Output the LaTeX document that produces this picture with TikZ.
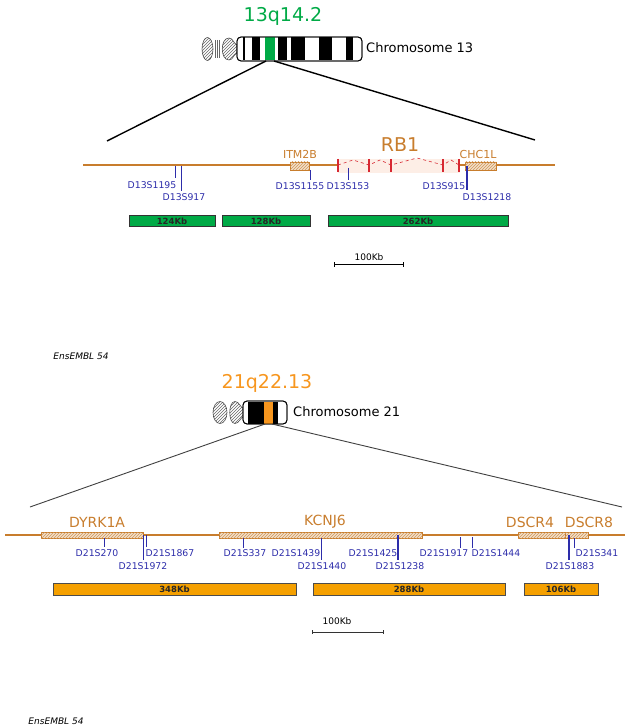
\documentclass[tikz,border=0pt]{standalone}
\usepackage{fontspec}
\setmainfont{DejaVu Sans}
\usetikzlibrary{patterns}
\definecolor{bandgreen}{RGB}{0,170,70}
\definecolor{bandorange}{RGB}{247,150,30}
\definecolor{geneorange}{RGB}{200,125,45}
\definecolor{markerblue}{RGB}{45,45,170}
\definecolor{barorange}{RGB}{245,160,0}
\definecolor{rbfill}{RGB}{253,238,230}
\definecolor{exonred}{RGB}{215,40,50}
\begin{document}
\begin{tikzpicture}[x=1pt,y=-1pt,
  mlabel/.style={font=\fontsize{9.3}{10}\selectfont, text=markerblue, inner sep=0pt},
  mtick/.style={draw=markerblue, line width=0.9pt},
  mthick/.style={draw=markerblue, line width=2pt},
  genelabel/.style={font=\fontsize{11}{12}\selectfont, text=geneorange, inner sep=0pt},
  bigglabel/.style={font=\fontsize{14}{15}\selectfont, text=geneorange, inner sep=0pt},
  genebox/.style={draw=geneorange, line width=0.8pt, fill=geneorange!25,
    postaction={pattern=north east lines, pattern color=geneorange!80}},
  track/.style={draw=geneorange, line width=1.1pt},
  kbtext/.style={font=\bfseries\fontsize{8.5}{9}\selectfont, text=black!85, inner sep=0pt},
  greenbar/.style={draw=black!80, line width=1pt, fill=bandgreen},
  orangebar/.style={draw=black!70, line width=0.8pt, fill=barorange},
  chromtext/.style={font=\fontsize{13}{14}\selectfont, anchor=west, inner sep=0pt},
  hatchoval/.style={draw=black!70, line width=0.6pt, pattern=north east lines, pattern color=black!60},
  zoomline/.style={draw=black, line width=1.4pt},
  zoomthin/.style={draw=black!75, line width=0.9pt},
  scaletext/.style={font=\fontsize{9}{10}\selectfont, inner sep=0pt},
  srctext/.style={font=\itshape\fontsize{9}{10}\selectfont, inner sep=0pt}
]
\useasboundingbox (0,0) rectangle (625,727);

% ---------------- Chromosome 13 ----------------
\node[text=bandgreen, font=\fontsize{19}{20}\selectfont, inner sep=0pt] (band13) at (283,16) {13q14.2};
\draw[hatchoval] (207.5,49) ellipse [x radius=5.5, y radius=11.5];
\foreach \xx in {215,217,219} \draw[black!60, line width=0.5pt] (\xx,40) -- (\xx,58);
\draw[hatchoval] (229,38) .. controls (220,38) and (220,60) .. (229,60)
  .. controls (233,60) and (233,55) .. (237,53) -- (237,45)
  .. controls (233,43) and (233,38) .. (229,38) -- cycle;
\draw[black, line width=0.8pt, fill=white, rounded corners=4pt] (237,37) rectangle (362,61);
\foreach \a/\b in {243/245,252/260,278/287,291/305,319/332,346/353}
  \fill[black] (\a,37.5) rectangle (\b,60.5);
\fill[bandgreen] (265,37.5) rectangle (275,60.5);
\draw[black, line width=0.8pt, rounded corners=4pt] (237,37) rectangle (362,61);
\node[chromtext] (chr13) at (366,48) {Chromosome 13};
\coordinate (b13l) at (266,61);
\coordinate (b13r) at (274,61);
\coordinate (t13l) at (107,141);
\coordinate (t13r) at (535,140);
\draw[zoomline] (b13l) -- (t13l);
\draw[zoomline] (b13r) -- (t13r);

% ---------------- 13q14.2 gene track ----------------
\draw[track] (83,165) -- (555,165);
% RB1 with exons and introns
\fill[rbfill] (338,159) rectangle (460,173);
\draw[exonred, dashed, line width=0.6pt] (338,165) -- (353,160) -- (369,165) -- (380,160) -- (391,165)
  -- (417,158) -- (443,165) -- (451,160) -- (459,165);
\foreach \xx in {338,369,391,443,459} \draw[draw=exonred, line width=1.1pt] (\xx,159) -- (\xx,172);
\node[bigglabel, font=\fontsize{19}{20}\selectfont] (rb1) at (400,145) {RB1};
\node[genebox, minimum width=19pt, minimum height=8pt, inner sep=0pt] (itm2b) at (299.5,166) {};
\node[genelabel] (itm2bl) at (300,154) {ITM2B};
\node[genebox, minimum width=31pt, minimum height=8pt, inner sep=0pt] (chc1l) at (480.5,166) {};
\node[genelabel] (chc1ll) at (478,154) {CHC1L};

% markers
\coordinate (m1a) at (175,166); \coordinate (m1b) at (175,178);
\draw[mtick] (m1a) -- (m1b);
\node[mlabel] (d13s1195) at (152,185) {D13S1195};
\coordinate (m2a) at (181,166); \coordinate (m2b) at (181,191);
\draw[mtick] (m2a) -- (m2b);
\node[mlabel] (d13s917) at (184,197) {D13S917};
\coordinate (m3a) at (310,170); \coordinate (m3b) at (310,180);
\draw[mtick] (m3a) -- (m3b);
\node[mlabel] (d13s1155) at (300,186) {D13S1155};
\coordinate (m4a) at (348,168); \coordinate (m4b) at (348,180);
\draw[mtick] (m4a) -- (m4b);
\node[mlabel] (d13s153) at (348,186) {D13S153};
\node[mlabel] (d13s915) at (444,186) {D13S915};
\coordinate (m5a) at (467,166); \coordinate (m5b) at (467,190);
\draw[mthick] (m5a) -- (m5b);
\node[mlabel] (d13s1218) at (487,197) {D13S1218};

% size bars
\draw[greenbar] (129,216) rectangle (215,226);
\node[kbtext] (kb124) at (172,221) {124Kb};
\draw[greenbar] (222,216) rectangle (310,226);
\node[kbtext] (kb128) at (266,221) {128Kb};
\draw[greenbar] (328,216) rectangle (508,226);
\node[kbtext] (kb262) at (418,221) {262Kb};

% scale
\node[scaletext] (sc13) at (369,257) {100Kb};
\coordinate (s13a) at (334,264); \coordinate (s13b) at (403,264);
\draw[black, line width=1pt] (s13a) -- (s13b);
\draw[black, line width=0.8pt] ([yshift=-2.5pt]s13a) -- ([yshift=2.5pt]s13a);
\draw[black, line width=0.8pt] ([yshift=-2.5pt]s13b) -- ([yshift=2.5pt]s13b);

\node[srctext] (src1) at (81,356) {EnsEMBL 54};

% ---------------- Chromosome 21 ----------------
\node[text=bandorange, font=\fontsize{19}{20}\selectfont, inner sep=0pt] (band21) at (267,383) {21q22.13};
\draw[hatchoval] (220,412.5) ellipse [x radius=7, y radius=11];
\draw[hatchoval] (235,401.5) .. controls (228,401.5) and (228,423.5) .. (235,423.5)
  .. controls (239,423.5) and (240,418) .. (244,416) -- (244,409)
  .. controls (240,407) and (239,401.5) .. (235,401.5) -- cycle;
\draw[black, line width=0.8pt, fill=white, rounded corners=4pt] (243,401) rectangle (287,424);
\fill[black] (248,401.5) rectangle (264,423.5);
\fill[bandorange] (264,401.5) rectangle (273,423.5);
\fill[black] (273,401.5) rectangle (278,423.5);
\draw[black, line width=0.8pt, rounded corners=4pt] (243,401) rectangle (287,424);
\node[chromtext] (chr21) at (293,412) {Chromosome 21};
\coordinate (b21l) at (265,424);
\coordinate (b21r) at (272,424);
\coordinate (t21l) at (30,507);
\coordinate (t21r) at (622,507);
\draw[zoomthin] (b21l) -- (t21l);
\draw[zoomthin] (b21r) -- (t21r);

% ---------------- 21q22.13 gene track ----------------
\draw[track] (5,535) -- (625,535);
\node[genebox, minimum width=102pt, minimum height=6pt, inner sep=0pt] (dyrk1a) at (92,535) {};
\node[bigglabel] (dyrk1al) at (97,522) {DYRK1A};
\node[genebox, minimum width=203pt, minimum height=6pt, inner sep=0pt] (kcnj6) at (320.5,535) {};
\node[bigglabel] (kcnj6l) at (325,522) {KCNJ6};
\node[genebox, minimum width=47pt, minimum height=6pt, inner sep=0pt] (dscr4) at (541.5,535) {};
\node[bigglabel] (dscr4l) at (530,522) {DSCR4};
\node[genebox, minimum width=23pt, minimum height=6pt, inner sep=0pt] (dscr8) at (576.5,535) {};
\node[bigglabel] (dscr8l) at (589,522) {DSCR8};

% markers
\coordinate (n1a) at (104,538); \coordinate (n1b) at (104,547);
\draw[mtick] (n1a) -- (n1b);
\node[mlabel] (d21s270) at (97,553) {D21S270};
\coordinate (n2a) at (143,535); \coordinate (n2b) at (143,560);
\draw[mtick] (n2a) -- (n2b);
\node[mlabel] (d21s1972) at (143,566) {D21S1972};
\coordinate (n3a) at (146,535); \coordinate (n3b) at (146,547);
\draw[mtick] (n3a) -- (n3b);
\node[mlabel] (d21s1867) at (170,553) {D21S1867};
\coordinate (n4a) at (243,538); \coordinate (n4b) at (243,548);
\draw[mtick] (n4a) -- (n4b);
\node[mlabel] (d21s337) at (245,553) {D21S337};
\coordinate (n5a) at (321,538); \coordinate (n5b) at (321,560);
\draw[mtick] (n5a) -- (n5b);
\node[mlabel] (d21s1439) at (296,553) {D21S1439};
\node[mlabel] (d21s1440) at (322,566) {D21S1440};
\coordinate (n6a) at (398,535); \coordinate (n6b) at (398,560);
\draw[mthick] (n6a) -- (n6b);
\node[mlabel] (d21s1425) at (373,553) {D21S1425};
\node[mlabel] (d21s1238) at (400,566) {D21S1238};
\coordinate (n7a) at (460,537); \coordinate (n7b) at (460,548);
\draw[mtick] (n7a) -- (n7b);
\node[mlabel] (d21s1917) at (444,553) {D21S1917};
\coordinate (n8a) at (472,537); \coordinate (n8b) at (472,548);
\draw[mtick] (n8a) -- (n8b);
\node[mlabel] (d21s1444) at (496,553) {D21S1444};
\coordinate (n9a) at (569,535); \coordinate (n9b) at (569,560);
\draw[mthick] (n9a) -- (n9b);
\node[mlabel] (d21s1883) at (570,566) {D21S1883};
\coordinate (n10a) at (574,538); \coordinate (n10b) at (574,548);
\draw[mtick] (n10a) -- (n10b);
\node[mlabel] (d21s341) at (597,553) {D21S341};

% size bars
\draw[orangebar] (53,583) rectangle (296,595);
\node[kbtext] (kb348) at (174.5,589) {348Kb};
\draw[orangebar] (313,583) rectangle (505,595);
\node[kbtext] (kb288) at (409,589) {288Kb};
\draw[orangebar] (524,583) rectangle (598,595);
\node[kbtext] (kb106) at (561,589) {106Kb};

% scale
\node[scaletext] (sc21) at (337,621) {100Kb};
\coordinate (s21a) at (312,632); \coordinate (s21b) at (383,632);
\draw[black!80, line width=0.8pt] (s21a) -- (s21b);
\draw[black!80, line width=0.7pt] ([yshift=-2pt]s21a) -- ([yshift=2pt]s21a);
\draw[black!80, line width=0.7pt] ([yshift=-2pt]s21b) -- ([yshift=2pt]s21b);

\node[srctext] (src2) at (56,721) {EnsEMBL 54};
\end{tikzpicture}
\end{document}
